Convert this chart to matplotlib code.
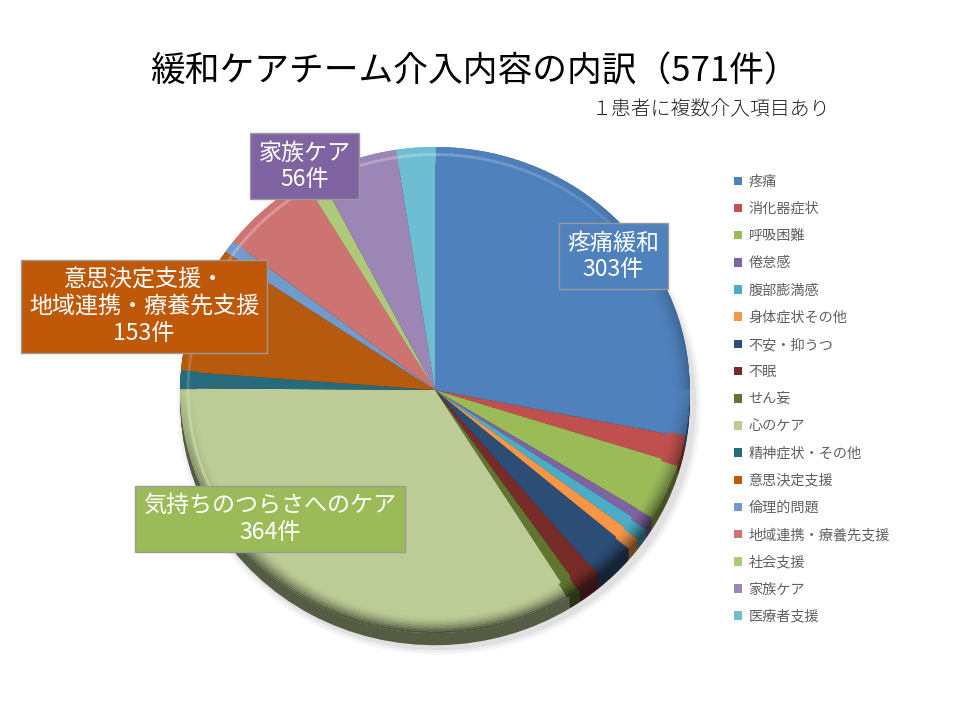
import numpy as np
import matplotlib
matplotlib.use('Agg')
import matplotlib.pyplot as plt
from matplotlib.patches import Wedge, Ellipse
from matplotlib.colors import to_rgb

plt.rcParams['font.family'] = ['Noto Sans CJK JP', 'DejaVu Sans']

# 介入内容（件数, 円グラフの角度から読み取った値）
categories = ['疼痛', '消化器症状', '呼吸困難', '倦怠感', '腹部膨満感', '身体症状その他',
              '不安・抑うつ', '不眠', 'せん妄', '心のケア', '精神症状・その他',
              '意思決定支援', '倫理的問題', '地域連携・療養先支援', '社会支援',
              '家族ケア', '医療者支援']
counts = [253, 16, 35, 6, 8, 8,
          24, 13, 7, 306, 10,
          74, 9, 54, 9,
          46, 22]
colors = ['#4F81BD', '#C0504D', '#9BBB59', '#8064A2', '#4BACC6', '#F79646',
          '#2C4D75', '#772C2A', '#5F7530', '#BDCC96', '#276A7C',
          '#B65A0E', '#729ACA', '#CD7371', '#AFC97A',
          '#9B86B5', '#6FBDD1']

# グループ別のラベル
group_labels = ['疼痛緩和\n303件', '気持ちのつらさへのケア\n364件',
                '意思決定支援・\n地域連携・療養先支援\n153件', '家族ケア\n56件']
group_colors = ['#4F81BD', '#9BBB59', '#C0580A', '#8064A2']
group_pos = [(0.639, 0.644), (0.281, 0.279), (0.150, 0.574), (0.317, 0.769)]


def shade(c, k):
    r = np.array(to_rgb(c))
    return tuple(r * (1 - k)) if k >= 0 else tuple(r + (1 - r) * (-k))


fig = plt.figure(figsize=(9.6, 7.2), dpi=100)
# x unit = 255 px, y unit = 243 px (slightly tilted pie)
ax = fig.add_axes([0.1479, 0.0701, 0.6104, 0.7764])

depth = 0.05
# soft shadow
for i, a in enumerate([0.03, 0.04, 0.05]):
    ax.add_patch(Ellipse((0.015, -depth - 0.01), 2.06 - 0.02 * i, 2.06 - 0.02 * i,
                         color='black', alpha=a, lw=0, zorder=0))

# side of the pie
side_colors = [shade(c, 0.55) for c in colors]
for dz in np.linspace(depth, 0.005, 8):
    ax.pie(counts, colors=side_colors, startangle=90, counterclock=False,
           center=(0, -dz), radius=1.0, frame=True,
           wedgeprops=dict(linewidth=0, zorder=1))

wedges, _ = ax.pie(counts, colors=colors, startangle=90, counterclock=False,
                   radius=1.0, frame=True, wedgeprops=dict(linewidth=0, zorder=2))

# bevel on the rim of the top face
total = sum(counts)
bounds = np.cumsum(counts) / total * 360.0
steps = np.linspace(0, 360, 241)
n_layers = 10
layers = [(1.0 - 0.0065 * i, 0.0075, 0.6 * (1 - i / n_layers) ** 1.6)
          for i in range(n_layers)]
for t0, t1 in zip(steps[:-1], steps[1:]):
    tm = (t0 + t1) / 2
    idx = int(np.searchsorted(bounds, (90 - tm) % 360, side='right'))
    base = colors[min(idx, len(colors) - 1)]
    s = np.sin(np.radians(tm))
    cval = np.cos(np.radians(tm))
    for r, w, k in layers:
        if s < 0:
            dark = k * (-s) ** 0.7 + 0.1 * k * max(cval, 0)
        else:
            dark = 0.35 * k * max(cval, 0) ** 2
        ax.add_patch(Wedge((0, 0), r, t0 - 0.2, t1 + 0.2, width=w,
                           color=shade(base, dark), lw=0, zorder=3))
    # faint highlight line at the upper left
    hl = max(0.0, np.sin(np.radians(tm - 30))) * 0.28
    if hl > 0:
        ax.add_patch(Wedge((0, 0), 0.975, t0 - 0.2, t1 + 0.2, width=0.012,
                           color=shade(base, -hl), lw=0, zorder=3))

ax.set_xlim(-1.15, 1.15)
ax.set_ylim(-1.15, 1.15)
ax.set_aspect('auto')
ax.axis('off')

for lab, fc, (x, y) in zip(group_labels, group_colors, group_pos):
    fig.text(x, y, lab, ha='center', va='center', color='white', fontsize=16.6,
             linespacing=1.2, zorder=5,
             bbox=dict(boxstyle='square,pad=0.36', facecolor=fc,
                       edgecolor='#9a9a9a', linewidth=1.0))

fig.text(0.494, 0.90, '緩和ケアチーム介入内容の内訳（571件）', ha='center', va='center',
         fontsize=25, color='black')
fig.text(0.865, 0.849, '１患者に複数介入項目あり', ha='right', va='center',
         fontsize=14.3, color='#222222', fontweight='light')

fig.legend(wedges, categories, loc='upper left', bbox_to_anchor=(0.759, 0.765),
           frameon=False, fontsize=10.2, labelcolor='#606060',
           handlelength=0.55, handleheight=0.55, handletextpad=0.45,
           labelspacing=0.93, borderaxespad=0)

fig.savefig('out.png', dpi=100, facecolor='white')
